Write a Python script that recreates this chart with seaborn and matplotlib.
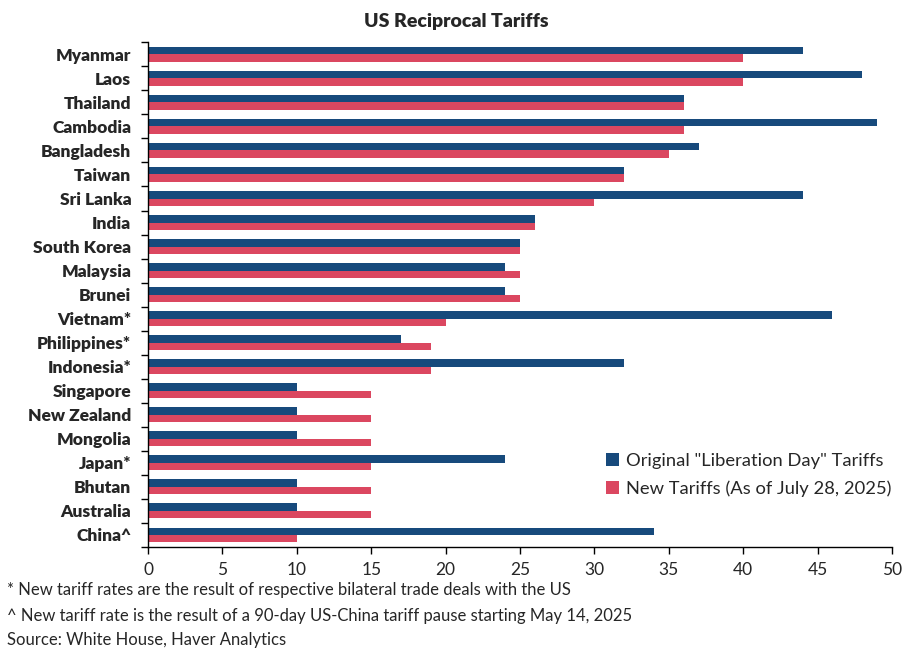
import matplotlib
matplotlib.use("Agg")
import matplotlib.pyplot as plt
import seaborn as sns
import pandas as pd
import numpy as np
from matplotlib.patches import Patch

countries = ["Myanmar", "Laos", "Thailand", "Cambodia", "Bangladesh", "Taiwan", "Sri Lanka",
             "India", "South Korea", "Malaysia", "Brunei", "Vietnam*", "Philippines*",
             "Indonesia*", "Singapore", "New Zealand", "Mongolia", "Japan*", "Bhutan",
             "Australia", "China^"]
original = [44, 48, 36, 49, 37, 32, 44, 26, 25, 24, 24, 46, 17, 32, 10, 10, 10, 24, 10, 10, 34]
new = [40, 40, 36, 36, 35, 32, 30, 26, 25, 25, 25, 20, 19, 19, 15, 15, 15, 15, 15, 15, 10]
series_names = ['Original "Liberation Day" Tariffs', 'New Tariffs (As of July 28, 2025)']
colors = ["#174A7C", "#DB4760"]
x_ticks = [0, 5, 10, 15, 20, 25, 30, 35, 40, 45, 50]

sns.set_theme(style="white")
plt.rcParams['font.family'] = ['Lato', 'DejaVu Sans']

df = pd.DataFrame({
    "Country": countries * 2,
    "Tariff": original + new,
    "Series": [series_names[0]] * len(countries) + [series_names[1]] * len(countries),
})

fig = plt.figure(figsize=(9.12, 6.63), dpi=100)
ax = fig.add_axes([148/912, 1-547/663, (892-148)/912, (547-42.3)/663])
sns.barplot(data=df, y="Country", x="Tariff", hue="Series", order=countries,
            hue_order=series_names, palette=colors, width=0.62, gap=0,
            saturation=1, ax=ax, legend=False, linewidth=0, edgecolor="none")

n = len(countries)
ax.set_xlim(0, 50)
ax.set_ylim(n - 0.5, -0.5)
ax.set_xticks(x_ticks)
ax.set_xticklabels([str(t) for t in x_ticks], fontsize=12.5)
ax.set_yticks(np.arange(-0.5, n, 1.0))
ax.set_yticklabels([])
ax.set_yticks(np.arange(n), minor=True)
ax.set_yticklabels(countries, minor=True, fontsize=12.5, fontweight="heavy")
ax.tick_params(axis="y", which="minor", length=0, pad=12)
ax.tick_params(axis="y", which="major", length=5, width=1, color="black", direction="out", left=True)
ax.tick_params(axis="x", length=5, width=1, color="black", direction="out", bottom=True, pad=6)
ax.set_xlabel("")
ax.set_ylabel("")
for s in ["top", "right"]:
    ax.spines[s].set_visible(False)
for s in ["left", "bottom"]:
    ax.spines[s].set_color("black")
    ax.spines[s].set_linewidth(1)

fig.text(0.5, 1-22/663, "US Reciprocal Tariffs", fontsize=14, fontweight="heavy",
         ha="center", va="center")

handles = [Patch(facecolor=c, edgecolor="none") for c in colors]
ax.legend(handles, series_names, loc="lower right", bbox_to_anchor=(1.0, 0.1),
          frameon=False, fontsize=13.2, handlelength=0.7, handleheight=0.7,
          handletextpad=0.4, labelspacing=0.6, borderaxespad=0, borderpad=0)

fig.text(7/912, 1-590/663, "* New tariff rates are the result of respective bilateral trade deals with the US",
         fontsize=12, va="center", ha="left")
fig.text(7/912, 1-616/663, "^ New tariff rate is the result of a 90-day US-China tariff pause starting May 14, 2025",
         fontsize=12, va="center", ha="left")
fig.text(7/912, 1-640/663, "Source: White House, Haver Analytics",
         fontsize=12, va="center", ha="left")

fig.savefig("out.png", dpi=100)
